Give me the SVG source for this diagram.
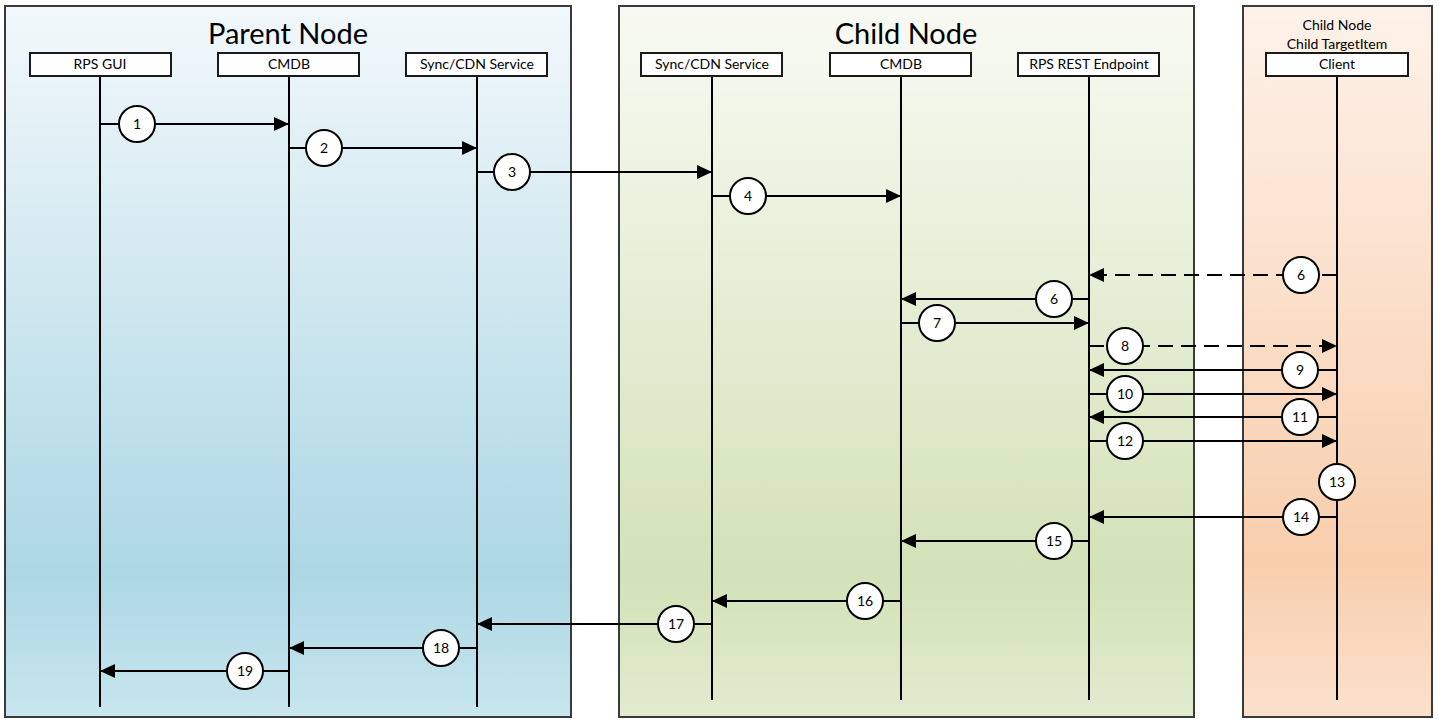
<svg xmlns="http://www.w3.org/2000/svg" width="1439" height="719" viewBox="0 0 1439 719">
<defs>
<linearGradient id="gParent" x1="0" y1="0" x2="0" y2="1">
<stop offset="0" stop-color="#f2f8fb"/>
<stop offset="0.8" stop-color="#acd7e4"/>
<stop offset="1" stop-color="#c8e6ee"/>
</linearGradient>
<linearGradient id="gChild" x1="0" y1="0" x2="0" y2="1">
<stop offset="0" stop-color="#f8faf3"/>
<stop offset="0.8" stop-color="#d3e2b8"/>
<stop offset="1" stop-color="#e1ebcf"/>
</linearGradient>
<linearGradient id="gClient" x1="0" y1="0" x2="0" y2="1">
<stop offset="0" stop-color="#fdf2e9"/>
<stop offset="0.78" stop-color="#f8cead"/>
<stop offset="1" stop-color="#fbe1cd"/>
</linearGradient>
<marker id="ah" markerUnits="userSpaceOnUse" markerWidth="16" markerHeight="14" refX="15" refY="7" orient="auto">
<path d="M0,0 L15,7 L0,14 z" fill="#000"/>
</marker>
</defs>
<style>
.region{stroke:#3a3a3a;stroke-width:2}
.hdr{fill:#fff;stroke:#1a1a1a;stroke-width:2}
.life{stroke:#000;stroke-width:2;fill:none}
.msg{stroke:#000;stroke-width:2;fill:none;marker-end:url(#ah)}
.dash{stroke-dasharray:15 8}
.num{fill:#fff;stroke:#000;stroke-width:2}
.t{font-family:Lato,"Open Sans","Liberation Sans",sans-serif;fill:#000;text-anchor:middle}
.lbl{font-size:14px}
.ttl{font-size:29px}
.nt{font-size:14px}
</style>
<rect width="1439" height="719" fill="#fff"/>

<g id="parent-node">
<rect class="region" x="5" y="6" width="566" height="711" fill="url(#gParent)"/>
<text class="t ttl" x="288" y="44">Parent Node</text>
</g>
<g id="child-node">
<rect class="region" x="619" y="6" width="575" height="711" fill="url(#gChild)"/>
<text class="t ttl" x="906" y="44">Child Node</text>
</g>
<g id="client-node">
<rect class="region" x="1243" y="6" width="189" height="711" fill="url(#gClient)"/>
<text class="t lbl" x="1337" y="30">Child Node</text>
<text class="t lbl" x="1337" y="49">Child TargetItem</text>
</g>

<g id="lifeline-rps-gui">
<line class="life" x1="100" y1="76" x2="100" y2="707"/>
<rect class="hdr" x="30" y="53" width="141" height="23"/>
<text class="t lbl" x="100" y="69">RPS GUI</text>
</g>
<g id="lifeline-parent-cmdb">
<line class="life" x1="289" y1="76" x2="289" y2="707"/>
<rect class="hdr" x="218" y="53" width="141" height="23"/>
<text class="t lbl" x="289" y="69">CMDB</text>
</g>
<g id="lifeline-parent-sync">
<line class="life" x1="477" y1="76" x2="477" y2="707"/>
<rect class="hdr" x="406" y="53" width="141" height="23"/>
<text class="t lbl" x="477" y="69">Sync/CDN Service</text>
</g>
<g id="lifeline-child-sync">
<line class="life" x1="712" y1="76" x2="712" y2="700"/>
<rect class="hdr" x="641" y="53" width="141" height="23"/>
<text class="t lbl" x="712" y="69">Sync/CDN Service</text>
</g>
<g id="lifeline-child-cmdb">
<line class="life" x1="901" y1="76" x2="901" y2="700"/>
<rect class="hdr" x="830" y="53" width="141" height="23"/>
<text class="t lbl" x="901" y="69">CMDB</text>
</g>
<g id="lifeline-rest">
<line class="life" x1="1089" y1="76" x2="1089" y2="700"/>
<rect class="hdr" x="1018" y="53" width="141" height="23"/>
<text class="t lbl" x="1089" y="69">RPS REST Endpoint</text>
</g>
<g id="lifeline-client">
<line class="life" x1="1337" y1="76" x2="1337" y2="700"/>
<rect class="hdr" x="1266" y="53" width="142" height="23"/>
<text class="t lbl" x="1337" y="69">Client</text>
</g>

<g id="connectors">
<line class="msg" x1="100" y1="124" x2="289" y2="124"/>
<line class="msg" x1="289" y1="148" x2="477" y2="148"/>
<line class="msg" x1="477" y1="172" x2="712" y2="172"/>
<line class="msg" x1="712" y1="196" x2="901" y2="196"/>
<line class="msg dash" x1="1337" y1="275" x2="1089" y2="275"/>
<line class="msg" x1="1089" y1="299" x2="901" y2="299"/>
<line class="msg" x1="901" y1="323" x2="1089" y2="323"/>
<line class="msg dash" x1="1089" y1="346" x2="1337" y2="346"/>
<line class="msg" x1="1337" y1="370" x2="1089" y2="370"/>
<line class="msg" x1="1089" y1="394" x2="1337" y2="394"/>
<line class="msg" x1="1337" y1="417" x2="1089" y2="417"/>
<line class="msg" x1="1089" y1="441" x2="1337" y2="441"/>
<line class="msg" x1="1337" y1="517" x2="1089" y2="517"/>
<line class="msg" x1="1089" y1="541" x2="901" y2="541"/>
<line class="msg" x1="901" y1="601" x2="712" y2="601"/>
<line class="msg" x1="712" y1="624" x2="477" y2="624"/>
<line class="msg" x1="477" y1="648" x2="289" y2="648"/>
<line class="msg" x1="289" y1="671" x2="100" y2="671"/>
</g>

<g id="step-labels">
<g id="s1"><circle class="num" cx="137" cy="124" r="18"/><text class="t nt" x="137" y="129">1</text></g>
<g id="s2"><circle class="num" cx="324" cy="148" r="18"/><text class="t nt" x="324" y="153">2</text></g>
<g id="s3"><circle class="num" cx="512" cy="172" r="18"/><text class="t nt" x="512" y="177">3</text></g>
<g id="s4"><circle class="num" cx="748" cy="196" r="18"/><text class="t nt" x="748" y="201">4</text></g>
<g id="s6a"><circle class="num" cx="1301" cy="275" r="18"/><text class="t nt" x="1301" y="280">6</text></g>
<g id="s6b"><circle class="num" cx="1054" cy="299" r="18"/><text class="t nt" x="1054" y="304">6</text></g>
<g id="s7"><circle class="num" cx="937" cy="323" r="18"/><text class="t nt" x="937" y="328">7</text></g>
<g id="s8"><circle class="num" cx="1125" cy="346" r="18"/><text class="t nt" x="1125" y="351">8</text></g>
<g id="s9"><circle class="num" cx="1300" cy="370" r="18"/><text class="t nt" x="1300" y="375">9</text></g>
<g id="s10"><circle class="num" cx="1125" cy="394" r="18"/><text class="t nt" x="1125" y="399">10</text></g>
<g id="s11"><circle class="num" cx="1300" cy="417" r="18"/><text class="t nt" x="1300" y="422">11</text></g>
<g id="s12"><circle class="num" cx="1125" cy="441" r="18"/><text class="t nt" x="1125" y="446">12</text></g>
<g id="s13"><circle class="num" cx="1337" cy="482" r="18"/><text class="t nt" x="1337" y="487">13</text></g>
<g id="s14"><circle class="num" cx="1301" cy="517" r="18"/><text class="t nt" x="1301" y="522">14</text></g>
<g id="s15"><circle class="num" cx="1054" cy="541" r="18"/><text class="t nt" x="1054" y="546">15</text></g>
<g id="s16"><circle class="num" cx="865" cy="601" r="18"/><text class="t nt" x="865" y="606">16</text></g>
<g id="s17"><circle class="num" cx="676" cy="624" r="18"/><text class="t nt" x="676" y="629">17</text></g>
<g id="s18"><circle class="num" cx="441" cy="648" r="18"/><text class="t nt" x="441" y="653">18</text></g>
<g id="s19"><circle class="num" cx="245" cy="671" r="18"/><text class="t nt" x="245" y="676">19</text></g>
</g>
</svg>
